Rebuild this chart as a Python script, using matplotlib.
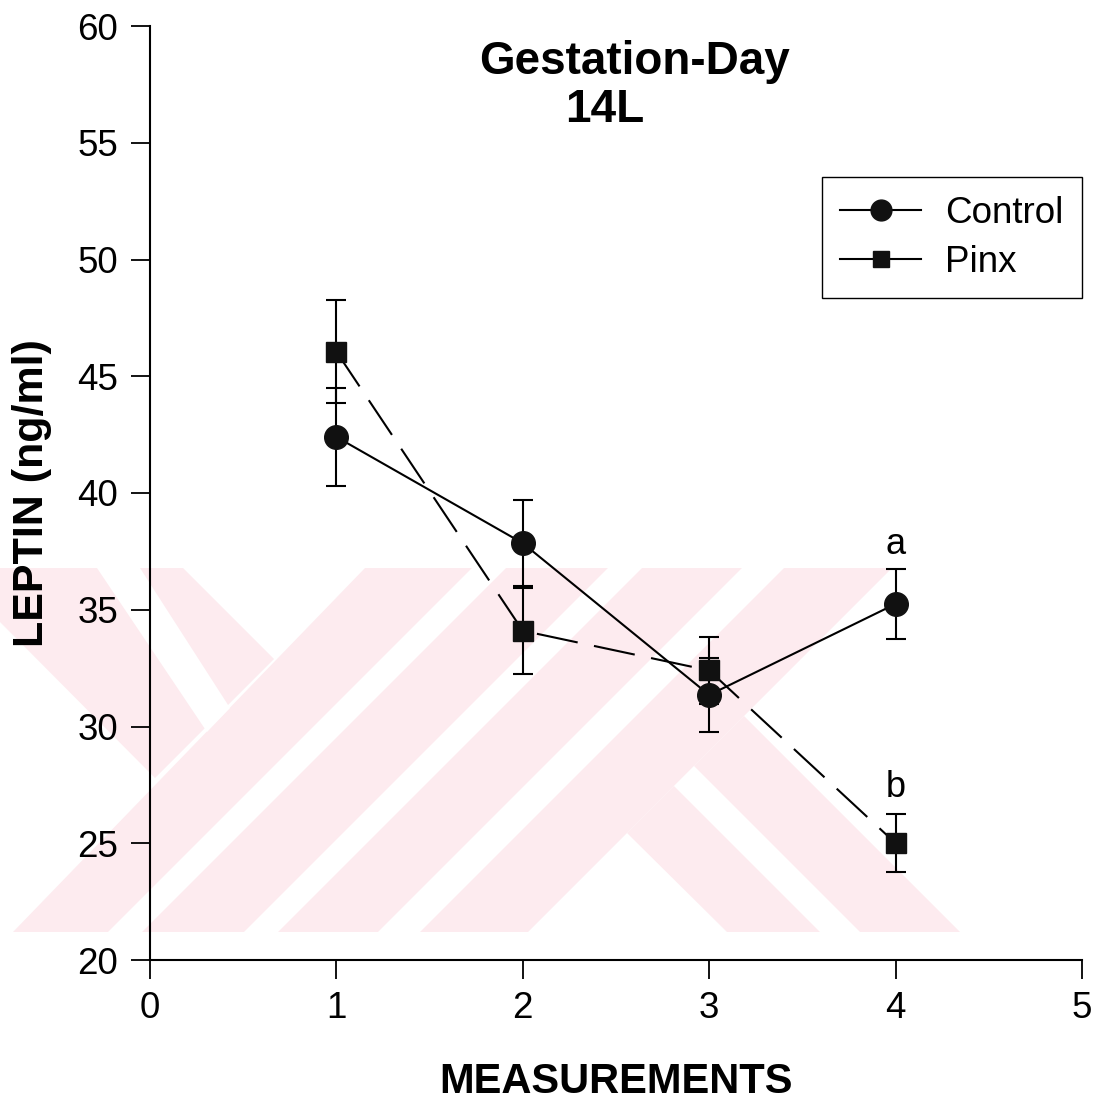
import matplotlib
matplotlib.use("Agg")
import matplotlib.pyplot as plt
from matplotlib.lines import Line2D
from matplotlib.patches import Polygon

plt.rcParams['font.family'] = ['Liberation Sans', 'DejaVu Sans']

# leptin measurements (mean +/- SEM), gestation day 14L
measurements = [1, 2, 3, 4]
control_mean = [42.4, 37.85, 31.35, 35.25]
control_sem = [2.1, 1.85, 1.6, 1.5]
pinx_mean = [46.05, 34.1, 32.4, 25.0]
pinx_sem = [2.2, 1.85, 1.45, 1.25]

# significance letters at measurement 4
sig_labels = ["a", "b"]
sig_y = [37.8, 27.4]

x_ticks = [0, 1, 2, 3, 4, 5]
y_ticks = [20, 25, 30, 35, 40, 45, 50, 55, 60]

W, H = 1095, 1100
fig = plt.figure(figsize=(W / 100, H / 100), dpi=100)

# faint background logo stamp, in pixel units of the page
bg = fig.add_axes([0, 0, 1, 1], zorder=-1)
bg.set_xlim(0, W)
bg.set_ylim(H, 0)
bg.axis("off")
pink = "#fdebef"
logo_pink = [
    [(0, 568), (183, 568), (274, 659), (155, 778), (0, 622)],
    [(365, 568), (892, 568), (528, 932), (13, 932)],
    [(627, 833), (744, 716), (960, 932), (727, 932)],
]
logo_gaps = [
    [(97, 568), (140, 568), (230, 708), (207, 732)],
    [(674, 786), (694, 766), (860, 932), (820, 932)],
]
for a, b in [(1040, 1074), (1176, 1210), (1310, 1352)]:
    logo_gaps.append([(a - 568, 568), (b - 568, 568), (b - 932, 932), (a - 932, 932)])
for pts in logo_pink:
    bg.add_patch(Polygon(pts, closed=True, facecolor=pink, edgecolor="none"))
for pts in logo_gaps:
    bg.add_patch(Polygon(pts, closed=True, facecolor="white", edgecolor="none"))

ax = fig.add_axes([150 / W, 140 / H, 932 / W, 934 / H])
ax.patch.set_alpha(0)

lw = 1.5
ax.errorbar(measurements, control_mean, yerr=control_sem, fmt="none",
            ecolor="black", elinewidth=lw, capsize=7, capthick=lw, zorder=2)
ax.errorbar(measurements, pinx_mean, yerr=pinx_sem, fmt="none",
            ecolor="black", elinewidth=lw, capsize=7, capthick=lw, zorder=2)

ax.plot(measurements, pinx_mean, color="black", lw=lw, dashes=[20, 8],
        marker="s", ms=15, mfc="#111111", mec="#111111", zorder=3)
ax.plot(measurements, control_mean, color="black", lw=lw,
        marker="o", ms=17, mfc="#111111", mec="#111111", zorder=4)

for lab, yv in zip(sig_labels, sig_y):
    ax.text(measurements[-1], yv, lab, ha="center", va="center", fontsize=26)

ax.text(2.6, 58.45, "Gestation-Day", ha="center", va="center",
        fontsize=33, fontweight="bold")
ax.text(2.44, 56.4, "14L", ha="center", va="center",
        fontsize=33, fontweight="bold")

ax.set_xlim(0, 5)
ax.set_ylim(20, 60)
ax.set_xticks(x_ticks)
ax.set_yticks(y_ticks)
for side in ["top", "right"]:
    ax.spines[side].set_visible(False)
for side in ["left", "bottom"]:
    ax.spines[side].set_linewidth(1.5)
ax.tick_params(direction="out", length=14, width=1.3, labelsize=26.5)
ax.tick_params(axis="x", pad=8)
ax.tick_params(axis="y", pad=9)

ax.set_xlabel("MEASUREMENTS", fontsize=30, fontweight="bold", labelpad=26)
ax.set_ylabel("LEPTIN (ng/ml)", fontsize=31, fontweight="bold", labelpad=18)

handles = [
    Line2D([], [], color="black", lw=lw, marker="o", ms=15, mfc="#111111", mec="#111111"),
    Line2D([], [], color="black", lw=lw, marker="s", ms=12, mfc="#111111", mec="#111111"),
]
leg = ax.legend(handles, ["Control", "Pinx"], loc="upper right",
                bbox_to_anchor=(1.0, 0.838), fontsize=26.5, frameon=True,
                fancybox=False, edgecolor="black", framealpha=1,
                handlelength=2.2, handletextpad=0.65, borderpad=0.5,
                labelspacing=0.38, borderaxespad=0)
leg.get_frame().set_linewidth(1.0)

fig.savefig("out.png", dpi=100)
